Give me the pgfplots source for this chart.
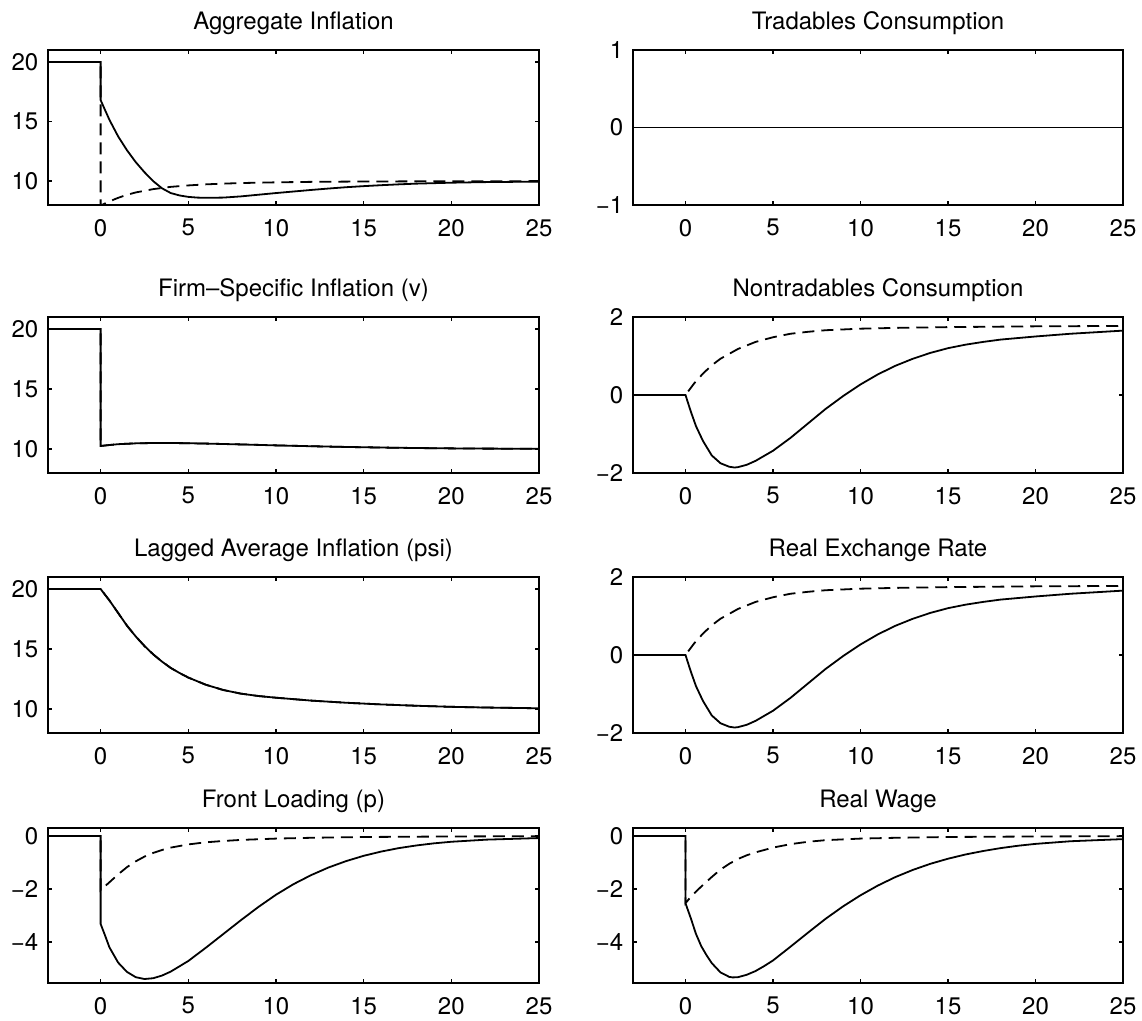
\documentclass[border=0pt]{standalone}
\usepackage{fontspec}
\setmainfont{TeX Gyre Heros}
\usepackage{pgfplots}
\pgfplotsset{compat=1.18}

\pgfplotsset{
  panel/.style={
    scale only axis,
    xmin=-3, xmax=25,
    xtick={0,5,10,15,20,25},
    tick align=inside,
    tick pos=both,
    major tick length=2pt,
    axis line style={line width=0.7pt},
    every tick/.style={black, line width=0.7pt},
    font=\fontsize{12}{14}\selectfont,
    /pgf/number format/assume math mode=true,
    xticklabel style={yshift=-3.5pt},
    yticklabel style={xshift=-1.3pt},
    title style={at={(0.5,1)}, anchor=base, yshift=4pt},
  },
  leftcol/.style={panel, at={(24pt,#1)}, anchor=south west, width=245.5pt},
  rightcol/.style={panel, at={(316.5pt,#1)}, anchor=south west, width=245pt},
  inflation/.style={ymin=8, ymax=21, ytick={10,15,20}},
  consumption/.style={ymin=-2, ymax=2, ytick={-2,0,2}, yticklabels={−2,0,2}},
  loading/.style={ymin=-5.55, ymax=0.3, ytick={-4,-2,0}, yticklabels={−4,−2,0}},
  sol/.style={black, line width=0.9pt},
  das/.style={black, line width=0.9pt, dash pattern=on 6pt off 3.5pt},
}

\begin{document}
\begin{tikzpicture}
\path[use as bounding box] (0,0) rectangle (571pt,510.5pt);

% ---------- row 1 ----------
\begin{axis}[leftcol=408pt, height=77.5pt, inflation, title={Aggregate Inflation}]
\addplot[das] coordinates {
  (-3,20) (0,20) (0,7.95) (0.5,8.3) (1,8.6) (1.5,8.85) (2,9.05) (3,9.33)
  (4,9.52) (5,9.64) (6,9.73) (7,9.79) (8,9.84) (10,9.9) (12,9.94)
  (15,9.97) (20,9.99) (25,10.0)
};
\addplot[sol] coordinates {
  (-3,20) (0,20) (0,16.8) (0.5,15.15) (1,13.75) (1.5,12.6) (2,11.6)
  (2.5,10.75) (3,10.0) (3.5,9.4) (4,9.0) (4.5,8.8) (5,8.68) (5.5,8.62)
  (6,8.6) (7,8.62) (8,8.72) (9,8.86) (10,9.0) (11,9.13) (12,9.26)
  (13,9.38) (14,9.49) (15,9.58) (16,9.66) (17,9.73) (18,9.79) (19,9.83)
  (20,9.87) (22,9.92) (25,9.96)
};
\end{axis}

\begin{axis}[rightcol=408pt, height=77.5pt, ymin=-1, ymax=1, ytick={-1,0,1},
  yticklabels={−1,0,1}, title={Tradables Consumption}]
\addplot[das] coordinates {(-3,0) (25,0)};
\addplot[sol] coordinates {(-3,0) (25,0)};
\end{axis}

% ---------- row 2 ----------
\begin{axis}[leftcol=274pt, height=78pt, inflation, title={Firm–Specific Inflation (v)}]
\addplot[das] coordinates {
  (-3,20) (0,20) (0,10.25) (0.5,10.33) (1,10.4) (2,10.47) (3,10.5) (4,10.5)
  (5,10.48) (6,10.45) (8,10.38) (10,10.3) (12,10.23) (14,10.17) (16,10.12)
  (18,10.08) (20,10.05) (22,10.03) (25,10.02)
};
\addplot[sol] coordinates {
  (-3,20) (0,20) (0,10.25) (0.5,10.33) (1,10.4) (2,10.47) (3,10.5) (4,10.5)
  (5,10.48) (6,10.45) (8,10.38) (10,10.3) (12,10.23) (14,10.17) (16,10.12)
  (18,10.08) (20,10.05) (22,10.03) (25,10.02)
};
\end{axis}

\begin{axis}[rightcol=274pt, height=78pt, consumption, title={Nontradables Consumption}]
\addplot[das] coordinates {
  (-3,0) (0,0) (0.5,0.3) (1,0.55) (1.5,0.76) (2,0.93) (3,1.18) (4,1.36)
  (5,1.48) (6,1.57) (7,1.62) (8,1.66) (10,1.7) (12,1.72) (15,1.74)
  (20,1.76) (25,1.77)
};
\addplot[sol] coordinates {
  (-3,0) (0,0) (0.3,-0.42) (0.6,-0.8) (1,-1.18) (1.5,-1.55) (2,-1.75)
  (2.5,-1.84) (2.8,-1.86) (3,-1.85) (3.5,-1.79) (4,-1.69) (5,-1.43) (6,-1.1)
  (7,-0.73) (8,-0.36) (9,-0.03) (10,0.27) (11,0.53) (12,0.75) (13,0.93)
  (14,1.08) (15,1.2) (16,1.29) (17,1.36) (18,1.42) (19,1.46) (20,1.5)
  (22,1.57) (25,1.65)
};
\end{axis}

% ---------- row 3 ----------
\begin{axis}[leftcol=144pt, height=78pt, inflation, title={Lagged Average Inflation (psi)}]
\addplot[das] coordinates {
  (-3,20) (0,20) (0.5,19.05) (1,18.0) (1.5,16.95) (2,16.05) (2.5,15.25)
  (3,14.55) (3.5,13.95) (4,13.42) (4.5,13.0) (5,12.62) (6,12.02) (7,11.58)
  (8,11.28) (9,11.08) (10,10.94) (12,10.7) (14,10.52) (16,10.38) (18,10.27)
  (20,10.18) (22,10.12) (25,10.06)
};
\addplot[sol] coordinates {
  (-3,20) (0,20) (0.5,19.05) (1,18.0) (1.5,16.95) (2,16.05) (2.5,15.25)
  (3,14.55) (3.5,13.95) (4,13.42) (4.5,13.0) (5,12.62) (6,12.02) (7,11.58)
  (8,11.28) (9,11.08) (10,10.94) (12,10.7) (14,10.52) (16,10.38) (18,10.27)
  (20,10.18) (22,10.12) (25,10.06)
};
\end{axis}

\begin{axis}[rightcol=144pt, height=78pt, consumption, title={Real Exchange Rate}]
\addplot[das] coordinates {
  (-3,0) (0,0) (0.5,0.3) (1,0.55) (1.5,0.76) (2,0.93) (3,1.18) (4,1.36)
  (5,1.48) (6,1.57) (7,1.62) (8,1.66) (10,1.7) (12,1.72) (15,1.74)
  (20,1.76) (25,1.77)
};
\addplot[sol] coordinates {
  (-3,0) (0,0) (0.3,-0.42) (0.6,-0.8) (1,-1.18) (1.5,-1.55) (2,-1.75)
  (2.5,-1.84) (2.8,-1.86) (3,-1.85) (3.5,-1.79) (4,-1.69) (5,-1.43) (6,-1.1)
  (7,-0.73) (8,-0.36) (9,-0.03) (10,0.27) (11,0.53) (12,0.75) (13,0.93)
  (14,1.08) (15,1.2) (16,1.29) (17,1.36) (18,1.42) (19,1.46) (20,1.5)
  (22,1.57) (25,1.65)
};
\end{axis}

% ---------- row 4 ----------
\begin{axis}[leftcol=19pt, height=77.5pt, loading, title={Front Loading (p)}]
\addplot[das] coordinates {
  (-3,0) (0,0) (0,-2.05) (0.5,-1.75) (1,-1.45) (1.5,-1.18) (2,-0.96)
  (2.5,-0.78) (3,-0.64) (3.5,-0.53) (4,-0.44) (5,-0.32) (6,-0.24) (7,-0.19)
  (8,-0.15) (10,-0.1) (12,-0.07) (15,-0.04) (20,-0.02) (25,-0.01)
};
\addplot[sol] coordinates {
  (-3,0) (0,0) (0,-3.32) (0.25,-3.75) (0.5,-4.2) (1,-4.78) (1.5,-5.13)
  (2,-5.33) (2.5,-5.4) (3,-5.37) (3.5,-5.27) (4,-5.12) (5,-4.72) (6,-4.22)
  (7,-3.7) (8,-3.18) (9,-2.68) (10,-2.22) (11,-1.82) (12,-1.48) (13,-1.19)
  (14,-0.95) (15,-0.75) (16,-0.59) (17,-0.46) (18,-0.36) (19,-0.28)
  (20,-0.22) (22,-0.14) (25,-0.08)
};
\end{axis}

\begin{axis}[rightcol=19pt, height=77.5pt, loading, title={Real Wage}]
\addplot[das] coordinates {
  (-3,0) (0,0) (0,-2.54) (0.3,-2.3) (0.6,-2.1) (0.9,-1.91) (1.5,-1.55)
  (2,-1.27) (2.5,-1.05) (3,-0.87) (3.5,-0.73) (4,-0.62) (5,-0.44) (6,-0.31)
  (7,-0.22) (8,-0.16) (10,-0.1) (12,-0.07) (15,-0.04) (20,-0.02) (25,-0.01)
};
\addplot[sol] coordinates {
  (-3,0) (0,0) (0,-2.54) (0.3,-3.1) (0.6,-3.7) (0.9,-4.16) (1.2,-4.5)
  (1.5,-4.8) (2,-5.15) (2.5,-5.32) (2.7,-5.34) (3,-5.33) (3.5,-5.24)
  (4,-5.1) (4.5,-4.91) (5,-4.7) (6,-4.18) (7,-3.65) (8,-3.13) (9,-2.66)
  (10,-2.24) (11,-1.87) (12,-1.55) (13,-1.28) (14,-1.05) (15,-0.86)
  (16,-0.7) (17,-0.57) (18,-0.46) (19,-0.37) (20,-0.3) (22,-0.2) (25,-0.12)
};
\end{axis}

\end{tikzpicture}
\end{document}
